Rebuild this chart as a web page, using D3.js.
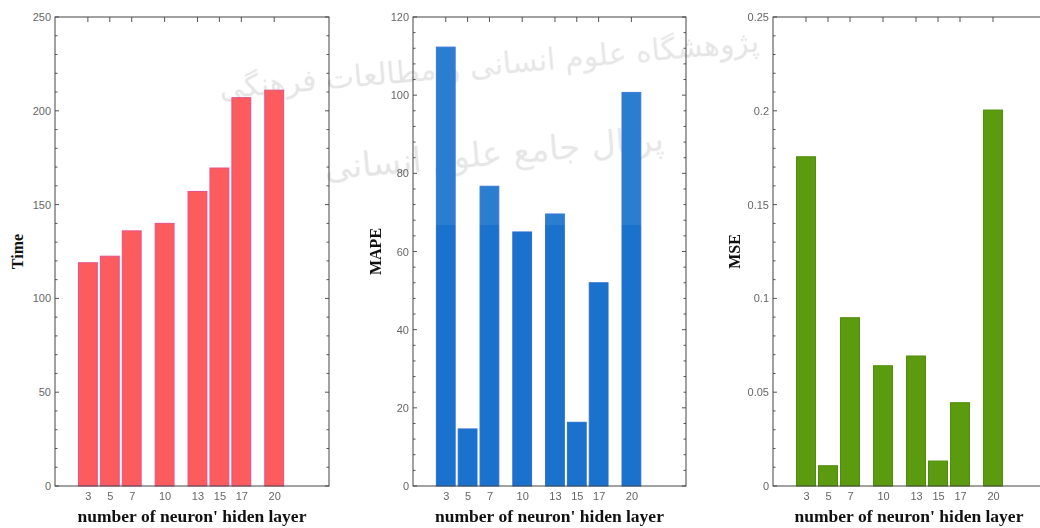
<!DOCTYPE html>
<html>
<head>
<meta charset="utf-8">
<script src="https://cdn.jsdelivr.net/npm/d3@7"></script>
<style>
  body { margin: 0; background: #fff; }
  svg { display: block; }
</style>
</head>
<body>
<svg id="chart" width="1040" height="528"></svg>
<script>
// hidden layer sizes (x positions)
var neurons = [3, 5, 7, 10, 13, 15, 17, 20];

// values
var timeValues = [119, 122.5, 136, 140, 157, 169.5, 207, 211];
var mapeValues = [112.3, 14.6, 76.7, 65, 69.6, 16.3, 52, 100.7];
var mseValues  = [0.1755, 0.0108, 0.0897, 0.0641, 0.0693, 0.0133, 0.0444, 0.2004];

var timeTicks = [0, 50, 100, 150, 200, 250];
var mapeTicks = [0, 20, 40, 60, 80, 100, 120];
var mseTicks  = [0, 0.05, 0.1, 0.15, 0.2, 0.25];

var xLabel = "number of neuron' hiden layer";

var svg = d3.select("#chart");

var plotTop = 17, plotBottom = 486;

var panels = [
    {left: 55,  right: 329,  title: "Time", titleX: 17,  values: timeValues, ticks: timeTicks, max: 250,  minor: 10,
     fill: "#fd5c5f", stroke: "#e3508a"},
    {left: 413, right: 686,  title: "MAPE", titleX: 375, values: mapeValues, ticks: mapeTicks, max: 120,  minor: 4,
     fill: "#1a72cd", stroke: "#2a6fd0"},
    {left: 773, right: 1048, title: "MSE",  titleX: 734, values: mseValues,  ticks: mseTicks,  max: 0.25, minor: 0.01,
     fill: "#5c9a10", stroke: "#4f8c0a"}
];

// faint watermark
var wm = svg.append("g").attr("fill", "#e0e0e0").attr("opacity", 0.85)
    .attr("font-family", "DejaVu Sans").attr("text-anchor", "middle");
wm.append("text").attr("x", 490).attr("y", 75).attr("font-size", 30)
    .attr("transform", "rotate(-5,490,75)")
    .text("پژوهشگاه علوم انسانی و مطالعات فرهنگی");
wm.append("text").attr("x", 495).attr("y", 165).attr("font-size", 34)
    .attr("transform", "rotate(-5,495,165)")
    .text("پرتال جامع علوم انسانی");

panels.forEach(function(p, pi) {
    var x = d3.scaleLinear().domain([0, 25]).range([p.left, p.right]);
    var y = d3.scaleLinear().domain([0, p.max]).range([plotBottom, plotTop]);
    var barW = x(1.72) - x(0);

    var g = svg.append("g");

    // bars
    g.selectAll("rect.bar")
        .data(p.values)
        .enter()
        .append("rect")
        .attr("class", "bar")
        .attr("x", function(d, i) { return x(neurons[i]) - barW / 2; })
        .attr("y", function(d) { return y(d); })
        .attr("width", barW)
        .attr("height", function(d) { return plotBottom - y(d); })
        .attr("fill", p.fill)
        .attr("stroke", p.stroke)
        .attr("stroke-width", 1);

    // lighter band from the scan on the middle panel
    if (pi == 1) {
        g.append("rect")
            .attr("x", p.left + 1).attr("y", plotTop)
            .attr("width", p.right - p.left - 2).attr("height", 225 - plotTop)
            .attr("fill", "#fff").attr("opacity", 0.08);
    }

    var minorTicks = d3.range(0, p.max + p.minor / 2, p.minor);

    // left axis
    var yAxis = d3.axisLeft(y).tickValues(p.ticks).tickSize(0).tickPadding(4)
        .tickFormat(function(d) { return d3.format("~g")(d); });
    var ya = g.append("g").attr("transform", "translate(" + p.left + ",0)").call(yAxis);
    ya.select(".domain").remove();
    ya.selectAll("text").attr("font-family", "Liberation Sans").attr("font-size", 11).attr("fill", "#666");

    // bottom axis
    var xAxis = d3.axisBottom(x).tickValues(neurons).tickSize(0).tickPadding(6);
    var xa = g.append("g").attr("transform", "translate(0," + plotBottom + ")").call(xAxis);
    xa.select(".domain").remove();
    xa.selectAll("text").attr("font-family", "Liberation Sans").attr("font-size", 11).attr("fill", "#666");

    // inward ticks on all four sides
    var tg = g.append("g").attr("stroke", "#555").attr("stroke-width", 1);
    minorTicks.forEach(function(v) {
        var major = p.ticks.some(function(t) { return Math.abs(t - v) < p.minor / 10; });
        var len = major ? 4 : 2.5;
        tg.append("line").attr("x1", p.left).attr("x2", p.left + len).attr("y1", y(v)).attr("y2", y(v));
        tg.append("line").attr("x1", p.right).attr("x2", p.right - len).attr("y1", y(v)).attr("y2", y(v));
    });
    neurons.forEach(function(n) {
        tg.append("line").attr("x1", x(n)).attr("x2", x(n)).attr("y1", plotTop).attr("y2", plotTop + 5);
    });

    // frame
    g.append("rect")
        .attr("x", p.left).attr("y", plotTop)
        .attr("width", p.right - p.left).attr("height", plotBottom - plotTop)
        .attr("fill", "none").attr("stroke", "#444").attr("stroke-width", 1);

    // titles
    g.append("text")
        .attr("transform", "translate(" + p.titleX + "," + ((plotTop + plotBottom) / 2) + ") rotate(-90)")
        .attr("text-anchor", "middle")
        .attr("dy", "0.35em")
        .attr("font-family", "Liberation Serif")
        .attr("font-weight", "bold")
        .attr("font-size", 16)
        .attr("fill", "#111")
        .text(p.title);

    g.append("text")
        .attr("x", (p.left + Math.min(p.right, 1045)) / 2)
        .attr("y", 522)
        .attr("text-anchor", "middle")
        .attr("font-family", "Liberation Serif")
        .attr("font-weight", "bold")
        .attr("font-size", 17.5)
        .attr("fill", "#111")
        .text(xLabel);
});
</script>
</body>
</html>
